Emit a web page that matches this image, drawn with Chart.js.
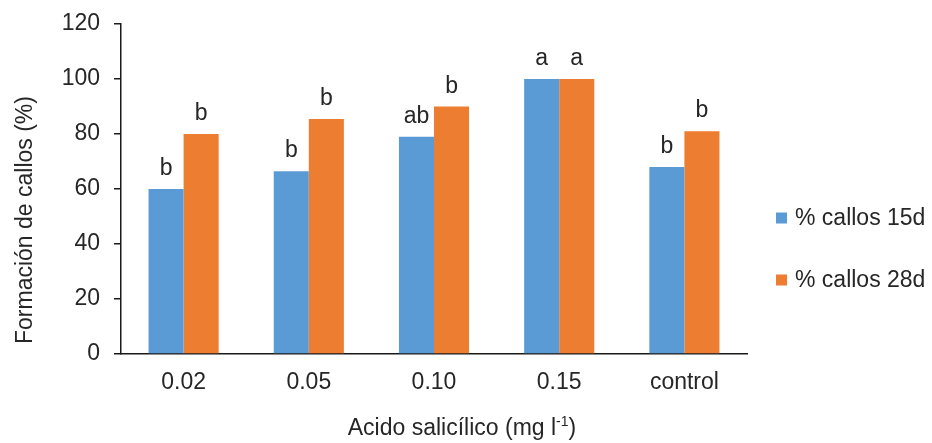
<!DOCTYPE html>
<html>
<head>
<meta charset="utf-8">
<script src="https://cdn.jsdelivr.net/npm/chart.js@4/dist/chart.umd.min.js"></script>
<style>
  body { margin: 0; background: #fff; }
  #wrap { width: 932px; height: 443px; }
</style>
</head>
<body>
<div id="wrap"><canvas id="callos-chart"></canvas></div>
<script>
var categories = ['0.02', '0.05', '0.10', '0.15', 'control'];
var callos15 = [60, 66.5, 79, 100, 68];
var callos28 = [80, 85.5, 90, 100, 81];
var letras15 = ['b', 'b', 'ab', 'a', 'b'];
var letras28 = ['b', 'b', 'b', 'a', 'b'];
var seriesNames = ['% callos 15d', '% callos 28d'];
var yMax = 120;
var yStep = 20;

var FONT = 'Liberation Sans, Arial, sans-serif';
var TEXT = '#262626';

// letras de significancia sobre cada barra
var letrasPlugin = {
  id: 'letras',
  afterDatasetsDraw: function(chart) {
    var ctx = chart.ctx;
    var letras = [letras15, letras28];
    ctx.save();
    ctx.font = '23px ' + FONT;
    ctx.fillStyle = TEXT;
    ctx.textAlign = 'center';
    ctx.textBaseline = 'alphabetic';
    chart.data.datasets.forEach(function(ds, i) {
      chart.getDatasetMeta(i).data.forEach(function(bar, j) {
        ctx.fillText(letras[i][j], bar.x, bar.y - 14);
      });
    });
    ctx.restore();
  }
};

// títulos de ejes y leyenda al estilo Excel
var marcoPlugin = {
  id: 'marco',
  afterDraw: function(chart) {
    var ctx = chart.ctx;
    ctx.save();
    ctx.fillStyle = TEXT;
    ctx.font = '23px ' + FONT;

    // titulo eje y
    ctx.save();
    ctx.translate(32, 220);
    ctx.rotate(-Math.PI / 2);
    ctx.textAlign = 'center';
    ctx.textBaseline = 'alphabetic';
    ctx.fillText('Formación de callos (%)', 0, 0);
    ctx.restore();

    // titulo eje x con superindice
    var a = 'Acido salicílico (mg l', sup = '-1', b = ')';
    ctx.font = '23px ' + FONT;
    var wa = ctx.measureText(a).width, wb = ctx.measureText(b).width;
    ctx.font = '14px ' + FONT;
    var ws = ctx.measureText(sup).width;
    var x0 = 462 - (wa + ws + wb) / 2;
    ctx.textAlign = 'left';
    ctx.font = '23px ' + FONT;
    ctx.fillText(a, x0, 435);
    ctx.font = '14px ' + FONT;
    ctx.fillText(sup, x0 + wa, 426);
    ctx.font = '23px ' + FONT;
    ctx.fillText(b, x0 + wa + ws, 435);

    // leyenda
    var ys = [218, 280];
    chart.data.datasets.forEach(function(ds, i) {
      ctx.fillStyle = ds.backgroundColor;
      ctx.fillRect(776, ys[i] - 5.5, 11, 11);
      ctx.fillStyle = TEXT;
      ctx.font = '23px ' + FONT;
      ctx.textBaseline = 'middle';
      ctx.fillText(ds.label, 795, ys[i] + 1);
    });
    ctx.restore();
  }
};

var chart = new Chart(document.getElementById('callos-chart'), {
  type: 'bar',
  data: {
    labels: categories,
    datasets: [{
      label: seriesNames[0],
      data: callos15,
      backgroundColor: '#5B9BD5'
    }, {
      label: seriesNames[1],
      data: callos28,
      backgroundColor: '#ED7D31'
    }]
  },
  options: {
    responsive: true,
    maintainAspectRatio: false,
    animation: false,
    categoryPercentage: 0.56,
    barPercentage: 1.0,
    layout: {
      padding: { top: 24, right: 185, left: 0, bottom: 0 }
    },
    plugins: {
      legend: { display: false },
      tooltip: { enabled: false }
    },
    scales: {
      x: {
        grid: { display: false, drawTicks: false },
        border: { color: '#1a1a1a', width: 1.5 },
        ticks: {
          color: TEXT,
          font: { family: FONT, size: 23 },
          padding: 15
        },
        afterFit: function(scale) {
          scale.height = 89;
          scale.paddingLeft = 0;
          scale.paddingRight = 0;
        }
      },
      y: {
        min: 0,
        max: yMax,
        grid: { drawOnChartArea: false, tickLength: 7, color: '#1a1a1a', lineWidth: 1.5 },
        border: { color: '#1a1a1a', width: 1.5 },
        ticks: {
          stepSize: yStep,
          color: TEXT,
          font: { family: FONT, size: 23 },
          padding: 14
        },
        afterFit: function(scale) {
          scale.width = 121;
          scale.paddingTop = 0;
          scale.paddingBottom = 0;
        }
      }
    }
  },
  plugins: [letrasPlugin, marcoPlugin]
});
</script>
</body>
</html>
